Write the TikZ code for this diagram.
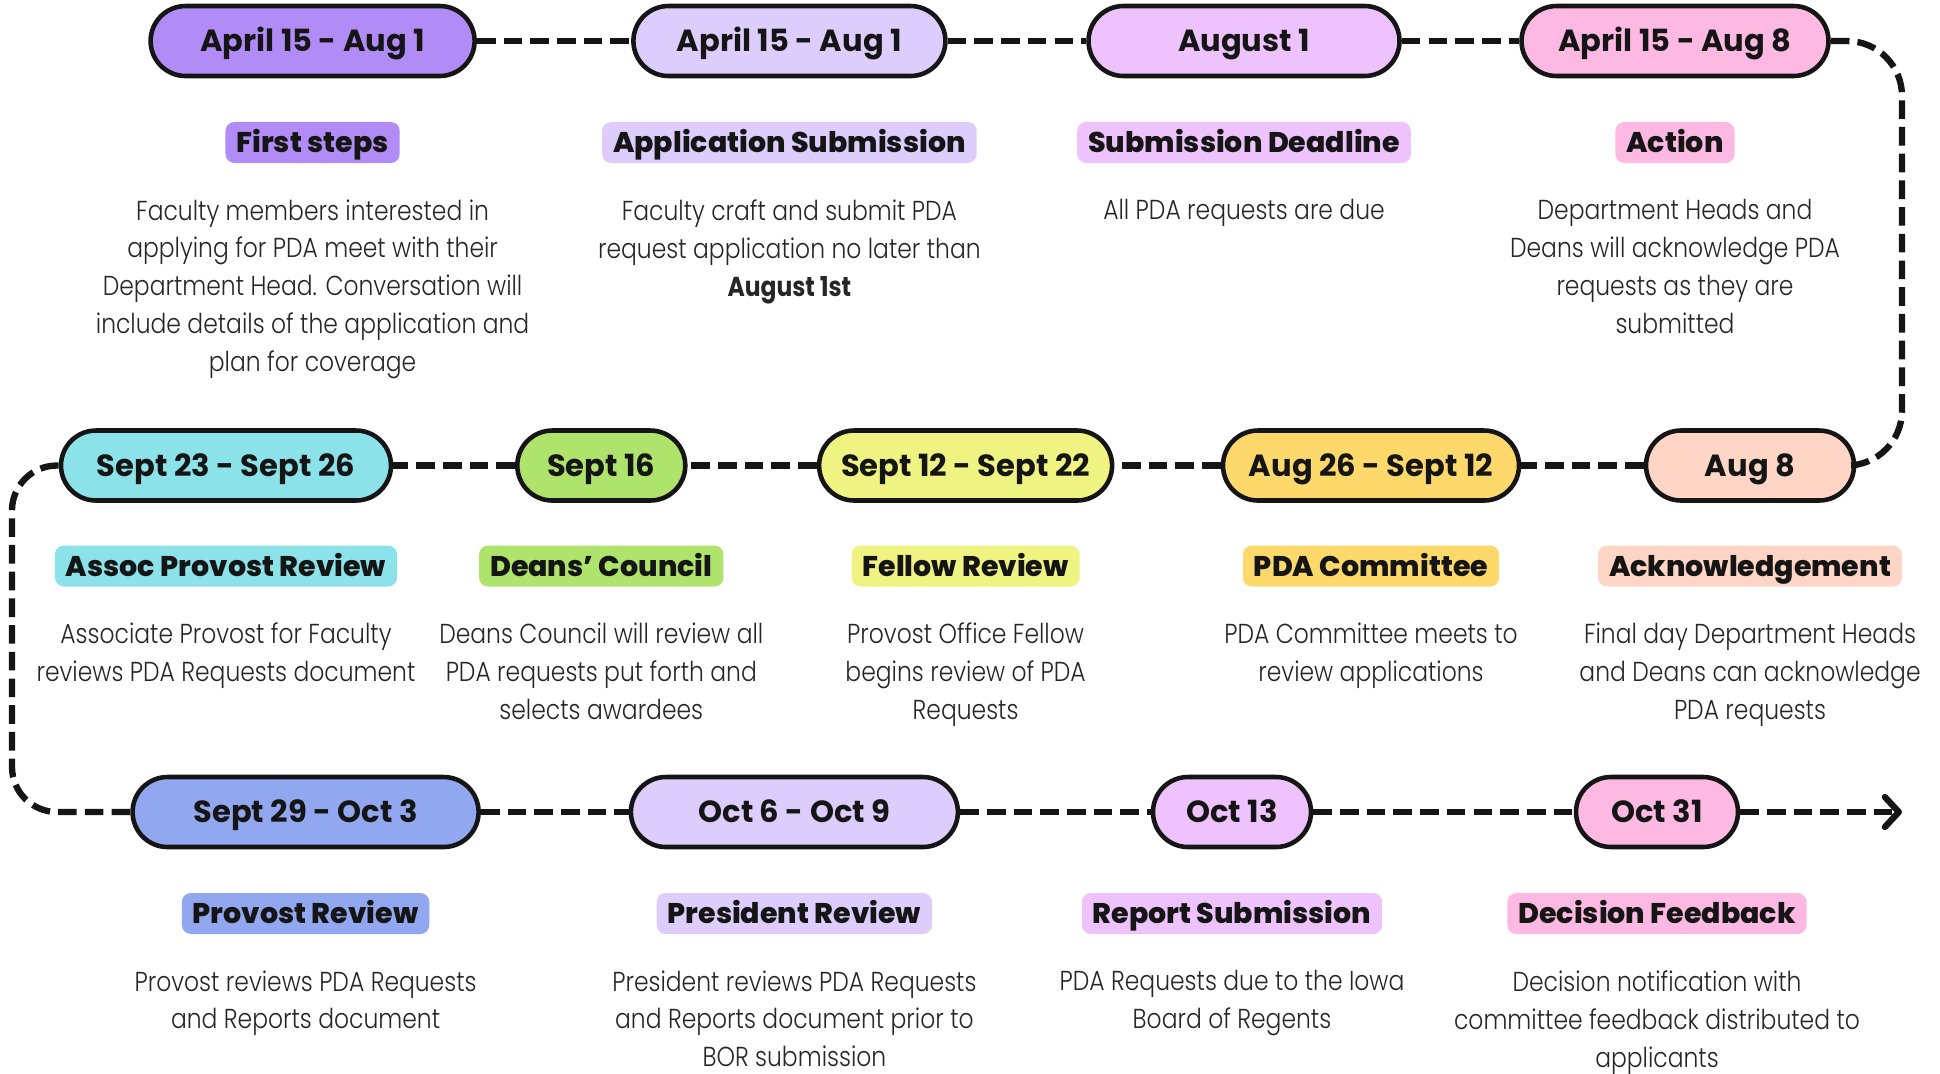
\documentclass[tikz,border=0pt]{standalone}
\usepackage{fontspec}
\setmainfont{Poppins}
\newfontfamily\datefont{Poppins Bold}
\newfontfamily\tagfont{Poppins ExtraBold}
\newfontfamily\descfont{Poppins Light}[FakeStretch=0.855,BoldFont={Poppins Bold}]
\usepackage{tikz}
\usetikzlibrary{positioning,calc,arrows.meta}
\definecolor{inkblack}{HTML}{151515}
\definecolor{textgray}{HTML}{262626}
\definecolor{lilac}{HTML}{B18CF7}
\definecolor{lavender}{HTML}{DDCDFD}
\definecolor{orchid}{HTML}{EEC3FD}
\definecolor{candy}{HTML}{FDB9E2}
\definecolor{peach}{HTML}{FFD6C6}
\definecolor{honey}{HTML}{FDD96B}
\definecolor{lemon}{HTML}{EEF381}
\definecolor{lime}{HTML}{AEE46B}
\definecolor{aqua}{HTML}{8BE2E8}
\definecolor{cornflower}{HTML}{91A8F1}
\tikzset{
  datepill/.style={draw=inkblack, line width=1.3pt, rounded corners=0.35cm, minimum height=0.7cm, inner sep=0pt, text height=0.215cm, text depth=0cm, text=inkblack, font={\datefont\fontsize{8.7}{10}\selectfont}},
  tagbox/.style={rounded corners=0.09cm, minimum height=0.41cm, inner xsep=0.11cm, inner ysep=0pt, text height=0.2cm, text depth=0cm, text=inkblack, font={\tagfont\fontsize{8.1}{9}\selectfont}},
  desctext/.style={align=center, inner sep=0pt, text=textgray, font={\descfont\fontsize{7.8}{10.8}\selectfont}},
  timeline/.style={draw=inkblack, line width=1.8pt, dash pattern=on 5.3pt off 2.3pt}
}

\begin{document}
\begin{tikzpicture}
		\useasboundingbox[fill=white] (0,0) rectangle (19.40,-10.73);
		
		% first row
		\node[datepill, fill=lilac, minimum width=3.24cm] (d1) at (3.126,-0.41) {April 15 - Aug 1};
		\node[tagbox, fill=lilac, below=0.43cm of d1] (t1) {First steps};
		\node[desctext, below=0.35cm of t1] (x1) {Faculty members interested in\\applying for PDA meet with their\\Department Head. Conversation will\\include details of the application and\\plan for coverage};
		
		\node[datepill, fill=lavender, minimum width=3.12cm] (d2) at (7.894,-0.41) {April 15 - Aug 1};
		\node[tagbox, fill=lavender, below=0.43cm of d2] (t2) {Application Submission};
		\node[desctext, below=0.35cm of t2] (x2) {Faculty craft and submit PDA\\request application no later than\\\textbf{August 1st}};
		
		\node[datepill, fill=orchid, minimum width=3.11cm] (d3) at (12.44,-0.41) {August 1};
		\node[tagbox, fill=orchid, below=0.43cm of d3] (t3) {Submission Deadline};
		\node[desctext, below=0.35cm of t3] (x3) {All PDA requests are due};
		
		\node[datepill, fill=candy, minimum width=3.07cm] (d4) at (16.75,-0.41) {April 15 - Aug 8};
		\node[tagbox, fill=candy, below=0.43cm of d4] (t4) {Action};
		\node[desctext, below=0.35cm of t4] (x4) {Department Heads and\\Deans will acknowledge PDA\\requests as they are\\submitted};
		
		% second row, right to left
		\node[datepill, fill=peach, minimum width=2.08cm] (d5) at (17.50,-4.655) {Aug 8};
		\node[tagbox, fill=peach, below=0.42cm of d5] (t5) {Acknowledgement};
		\node[desctext, below=0.35cm of t5] (x5) {Final day Department Heads\\and Deans can acknowledge\\PDA requests};
		
		\node[datepill, fill=honey, minimum width=2.96cm] (d6) at (13.71,-4.655) {Aug 26 - Sept 12};
		\node[tagbox, fill=honey, below=0.42cm of d6] (t6) {PDA Committee};
		\node[desctext, below=0.35cm of t6] (x6) {PDA Committee meets to\\review applications};
		
		\node[datepill, fill=lemon, minimum width=2.93cm] (d7) at (9.656,-4.655) {Sept 12 - Sept 22};
		\node[tagbox, fill=lemon, below=0.42cm of d7] (t7) {Fellow Review};
		\node[desctext, below=0.35cm of t7] (x7) {Provost Office Fellow\\begins review of PDA\\Requests};
		
		\node[datepill, fill=lime, minimum width=1.68cm] (d8) at (6.013,-4.655) {Sept 16};
		\node[tagbox, fill=lime, below=0.42cm of d8] (t8) {Deans’ Council};
		\node[desctext, below=0.35cm of t8] (x8) {Deans Council will review all\\PDA requests put forth and\\selects awardees};
		
		\node[datepill, fill=aqua, minimum width=3.30cm] (d9) at (2.26,-4.655) {Sept 23 - Sept 26};
		\node[tagbox, fill=aqua, below=0.42cm of d9] (t9) {Assoc Provost Review};
		\node[desctext, below=0.35cm of t9] (x9) {Associate Provost for Faculty\\reviews PDA Requests document};
		
		% third row
		\node[datepill, fill=cornflower, minimum width=3.46cm] (d10) at (3.056,-8.12) {Sept 29 - Oct 3};
		\node[tagbox, fill=cornflower, below=0.43cm of d10] (t10) {Provost Review};
		\node[desctext, below=0.35cm of t10] (x10) {Provost reviews PDA Requests\\and Reports document};
		
		\node[datepill, fill=lavender, minimum width=3.27cm] (d11) at (7.944,-8.12) {Oct 6 - Oct 9};
		\node[tagbox, fill=lavender, below=0.43cm of d11] (t11) {President Review};
		\node[desctext, below=0.35cm of t11] (x11) {President reviews PDA Requests\\and Reports document prior to\\BOR submission};
		
		\node[datepill, fill=orchid, minimum width=1.58cm] (d12) at (12.32,-8.12) {Oct 13};
		\node[tagbox, fill=orchid, below=0.43cm of d12] (t12) {Report Submission};
		\node[desctext, below=0.35cm of t12] (x12) {PDA Requests due to the Iowa\\Board of Regents};
		
		\node[datepill, fill=candy, minimum width=1.62cm] (d13) at (16.57,-8.12) {Oct 31};
		\node[tagbox, fill=candy, below=0.43cm of d13] (t13) {Decision Feedback};
		\node[desctext, below=0.35cm of t13] (x13) {Decision notification with\\committee feedback distributed to\\applicants};
		
		\coordinate (rturn) at (19.02,-2.5);
		\coordinate (lturn) at (0.12,-6.4);
		\coordinate (tend) at (19.02,-8.12);
		
		%\draw[timeline] (d1) -- (d2);
		\draw[timeline] (d1.east) -- (d2.west);
		\draw[timeline] (d2.east) -- (d3.west);
		\draw[timeline] (d3.east) -- (d4.west);
		\draw[timeline, rounded corners=0.55cm] (d4.east) -| (rturn) |- (d5.east);
		\draw[timeline] (d5.west) -- (d6.east);
		\draw[timeline] (d6.west) -- (d7.east);
		\draw[timeline] (d7.west) -- (d8.east);
		\draw[timeline] (d8.west) -- (d9.east);
		\draw[timeline, rounded corners=0.45cm] (d9.west) -| (lturn) |- (d10.west);
		\draw[timeline] (d10.east) -- (d11.west);
		\draw[timeline] (d11.east) -- (d12.west);
		\draw[timeline] (d12.east) -- (d13.west);
		\draw[timeline, -{Straight Barb[length=1.4mm,width=3mm,line join=round,line cap=round]}] (d13.east) -- (tend);
		
\end{tikzpicture}
\end{document}
